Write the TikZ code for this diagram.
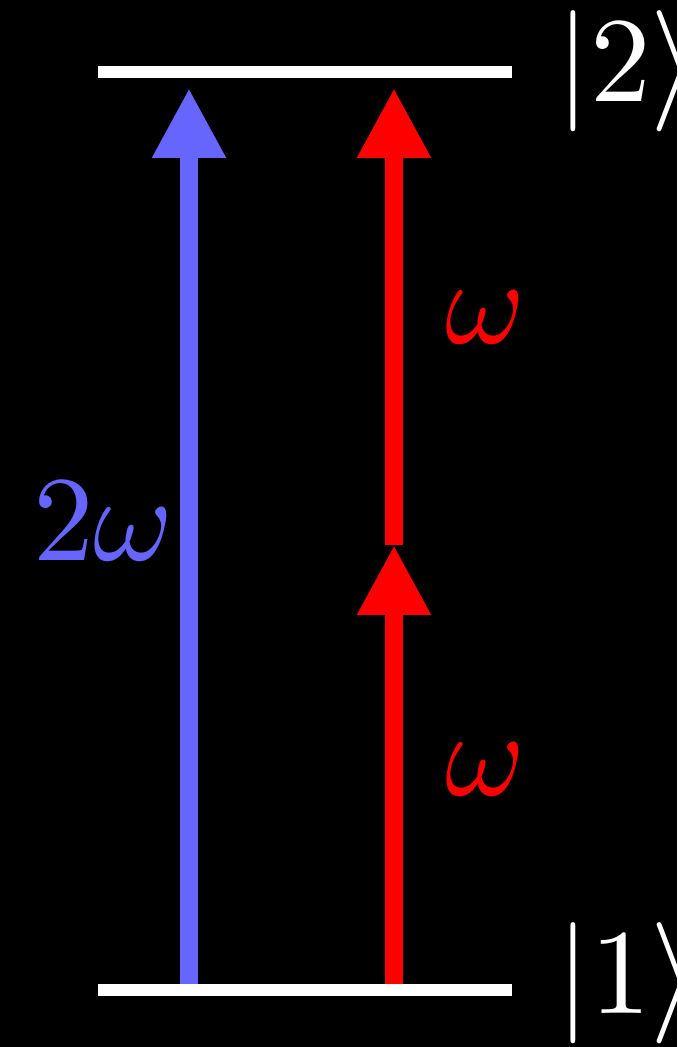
\documentclass[tikz,border=0pt]{standalone}
\usetikzlibrary{arrows.meta}

\definecolor{pumpblue}{rgb}{0.4,0.4,1}

\begin{document}
\begin{tikzpicture}[
  x=0.02cm, y=-0.02cm,
  lvl/.style={draw=white,line width=0.24cm},
  ph/.style={line width=0.36cm,-{Triangle[length=1.40cm,width=1.38cm]}},
  lbl/.style={inner sep=0pt,anchor=base west,scale=6.9}
]

% ---- background / frame ----
\fill[black] (0,0) rectangle (677,1047);
\useasboundingbox (0,0) rectangle (677,1047);

% ---- anchor points ----
\coordinate (up)   at (189,88);
\coordinate (ub)   at (189,990);
\coordinate (rtop) at (394,88);
\coordinate (rmid) at (394,545);
\coordinate (rbot) at (394,990);

% ---- photons ----
\draw[ph,draw=pumpblue,fill=pumpblue] (ub) -- (up);
\draw[ph,draw=red,fill=red] (rbot) -- (rmid);
\draw[ph,draw=red,fill=red] (rmid) -- (rtop);

% ---- levels ----
\coordinate (l2a) at (98,72);
\coordinate (l2b) at (512,72);
\coordinate (l1a) at (98,990);
\coordinate (l1b) at (512,990);
\draw[lvl] (l2a) -- (l2b);
\draw[lvl] (l1a) -- (l1b);

% ---- labels ----
\node[lbl,text=white] (k2) at (554,102) {$|2\rangle$};
\node[lbl,text=white] (k1) at (554,1013) {$|1\rangle$};
\node[lbl,text=pumpblue,anchor=base east] (w2) at (176,560) {$2\omega$};
\node[lbl,text=red] (wa) at (443,343) {$\omega$};
\node[lbl,text=red] (wb) at (443,795) {$\omega$};

\end{tikzpicture}
\end{document}
